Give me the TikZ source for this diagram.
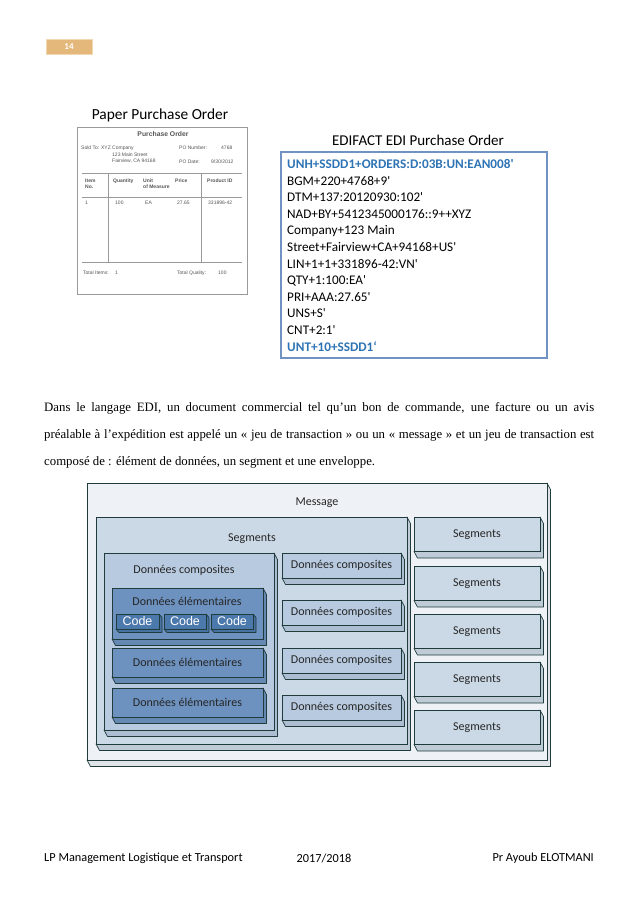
\documentclass[tikz,border=0pt]{standalone}
\usepackage{fontspec}
\setmainfont{Liberation Serif}
\newfontfamily\calfont{Carlito}
\newfontfamily\arialfont{Liberation Sans}
\definecolor{bord}{HTML}{1F3B3B}
\definecolor{msgc}{HTML}{EEF2F6}
\definecolor{segc}{HTML}{CBD8E5}
\definecolor{compc}{HTML}{B8CADF}
\definecolor{elemc}{HTML}{6D92C0}
\definecolor{codec}{HTML}{4C79AC}
\definecolor{edib}{HTML}{7093C3}
\definecolor{ediblue}{HTML}{2E74B5}
\definecolor{pgc}{HTML}{E4B87B}
\definecolor{pgb}{HTML}{F2D8B0}
\definecolor{pogray}{HTML}{9A9A9A}
\definecolor{potext}{HTML}{555555}
\newcommand\xbox[8]{%
  \filldraw[fill=#6!94!black, draw=bord, line width=0.7pt, line join=round]
    (#4,#3) -- ({#4+#7},{#3+#8}) -- ({#4+#7},{#5+#8}) -- ({#2+#7},{#5+#8}) -- (#2,#5) -- (#4,#5) -- cycle;
  \node[draw=bord, fill=#6, line width=0.7pt, inner sep=0pt,
    minimum width={(#4-#2)*1pt}, minimum height={(#5-#3)*1pt}]
    (#1) at ({(#2+#4)/2},{(#3+#5)/2}) {};
}
\tikzset{
  lbl/.style={font=\calfont\fontsize{12}{14}\selectfont, text=black!85, inner sep=0pt},
  codelbl/.style={font=\arialfont\fontsize{12.5}{14}\selectfont, text=white, inner sep=0pt},
  potxt/.style={font=\arialfont\fontsize{5}{6}\selectfont, text=potext, inner sep=0pt, anchor=west},
  pobold/.style={potxt, font=\arialfont\bfseries\fontsize{5}{6}\selectfont},
  poline/.style={draw=pogray, line width=0.6pt},
  edi/.style={font=\calfont\fontsize{13.2}{16}\selectfont, anchor=base west, inner sep=0pt},
  title/.style={font=\calfont\fontsize{15.4}{18}\selectfont, inner sep=0pt},
  body/.style={font=\fontsize{12.8}{15}\selectfont, anchor=base west, inner sep=0pt},
  foot/.style={font=\calfont\fontsize{12.3}{14}\selectfont, inner sep=0pt}
}
\begin{document}
\begin{tikzpicture}[x=1pt,y=-1pt]
\fill[white] (0,0) rectangle (638,903);
\useasboundingbox (0,0) rectangle (638,903);
% page number
\node[draw=pgb, fill=pgc, line width=0.8pt, minimum width=46pt, minimum height=15pt, inner sep=0pt,
  font=\calfont\bfseries\fontsize{9}{10}\selectfont, text=white] (pg) at (69,46.5) {14};
% paper purchase order
\node[title] (ptitle) at (160,115) {Paper Purchase Order};
\draw[draw=pogray, line width=0.8pt] (77,127) rectangle (247,294);
\node[pobold, font=\arialfont\bfseries\fontsize{6.8}{8}\selectfont, anchor=center] (pot) at (163,134) {Purchase Order};
\node[potxt] (sold) at (81,148) {Sold To: XYZ Company};
\node[potxt] (addr1) at (112,155) {123 Main Street};
\node[potxt] (addr2) at (112,161.5) {Fairview, CA 94168};
\node[potxt] (pon) at (179,148) {PO Number:};
\node[potxt] (ponv) at (221,148) {4768};
\node[potxt] (pod) at (179,161.5) {PO Date:};
\node[potxt] (podv) at (211,161.5) {9/30/2012};
\draw[poline] (82,173) -- (242,173);
\draw[poline] (82,197) -- (242,197);
\draw[poline] (82,262) -- (242,262);
\draw[poline] (108,173) -- (108,262);
\draw[poline] (201,173) -- (201,262);
\node[pobold] (h1) at (85,181) {Item};
\node[pobold] (h1b) at (85,187) {No.};
\node[pobold] (h2) at (113,181) {Quantity};
\node[pobold] (h3) at (143,181) {Unit};
\node[pobold] (h3b) at (143,187) {of Measure};
\node[pobold] (h4) at (175,181) {Price};
\node[pobold] (h5) at (207,181) {Product ID};
\node[potxt] (r1) at (85,203) {1};
\node[potxt] (r2) at (115,203) {100};
\node[potxt] (r3) at (145,203) {EA};
\node[potxt] (r4) at (177,203) {27.65};
\node[potxt] (r5) at (208,203) {331896-42};
\node[potxt] (ti) at (83,273) {Total Items:};
\node[potxt] (tiv) at (115,273) {1};
\node[potxt] (tq) at (177,273) {Total Quality:};
\node[potxt] (tqv) at (218,273) {100};
% EDIFACT
\node[title, font=\calfont\fontsize{15}{18}\selectfont] (etitle) at (418,140) {EDIFACT EDI Purchase Order};
\draw[draw=edib, line width=1.5pt] (281,152) rectangle (547,358);
\foreach \t [count=\i] in {{\color{ediblue}\bfseries UNH+SSDD1+ORDERS:D:03B:UN:EAN008'},
  BGM+220+4768+9',DTM+137:20120930:102',NAD+BY+5412345000176::9++XYZ,
  Company+123 Main,Street+Fairview+CA+94168+US',LIN+1+1+331896-42:VN',
  QTY+1:100:EA',PRI+AAA:27.65',UNS+S',CNT+2:1',{\color{ediblue}\bfseries UNT+10+SSDD1‘}}
  \node[edi] (e\i) at (287,{168.5+16.6*(\i-1)}) {\t};
% paragraph
\node[body] (p1) at (44,411) {\hbox to 550pt{Dans le langage EDI, un document commercial tel qu’un bon de commande, une facture ou un avis}};
\node[body] (p2) at (44,438) {\hbox to 550pt{préalable à l’expédition est appelé un «~jeu de transaction~» ou un «~message~» et un jeu de transaction est}};
\node[body] (p3) at (44,465) {composé de : élément de données, un segment et une enveloppe.};
% diagram
\xbox{msg}{87}{483}{547}{760}{msgc}{3.5}{6.5}
\node[lbl] (msgt) at (317,503) {Message};
\xbox{segbig}{96}{517}{407}{744}{segc}{3.5}{6.5}
\node[lbl] (segbigt) at (252,539) {Segments};
\xbox{compbig}{104}{553}{274}{730}{compc}{3.5}{6.5}
\node[lbl] (compbigt) at (184,570) {Données composites};
\xbox{el1}{112}{588}{263}{639}{elemc}{3.5}{6.5}
\node[lbl] (el1t) at (187,601) {Données élémentaires};
\xbox{c1}{116}{614}{159}{629}{codec}{3}{3.5}
\node[codelbl] (c1t) at (c1) {Code};
\xbox{c2}{164}{614}{206}{629}{codec}{3}{3.5}
\node[codelbl] (c2t) at (c2) {Code};
\xbox{c3}{211}{614}{253}{629}{codec}{3}{3.5}
\node[codelbl] (c3t) at (c3) {Code};
\xbox{el2}{112}{648}{263}{677}{elemc}{3.5}{6.5}
\node[lbl] (el2t) at (el2) {Données élémentaires};
\xbox{el3}{112}{688}{263}{717}{elemc}{3.5}{6.5}
\node[lbl] (el3t) at (el3) {Données élémentaires};
\foreach \y [count=\i] in {553,600,648,695}{
  \xbox{cp\i}{282}{\y}{401}{\y+25}{compc}{3.5}{6.5}
  \node[lbl] (cp\i t) at (cp\i) {Données composites};
}
\foreach \y [count=\i] in {517,566,614,662,710}{
  \xbox{sg\i}{414}{\y}{540}{\y+34.5}{segc}{3.5}{6.5}
  \node[lbl] (sg\i t) at (sg\i) {Segments};
}
% footer
\node[foot, anchor=west] (f1) at (44,858) {LP Management Logistique et Transport};
\node[foot] (f2) at (324,858) {2017/2018};
\node[foot, anchor=east] (f3) at (594,858) {Pr Ayoub ELOTMANI};
\end{tikzpicture}
\end{document}
